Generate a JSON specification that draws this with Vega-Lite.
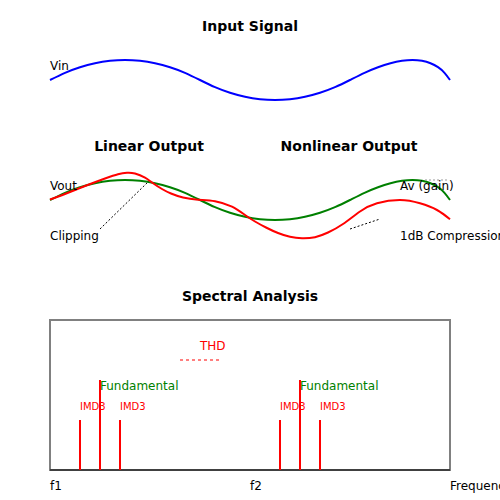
{
  "$schema": "https://vega.github.io/schema/vega-lite/v6.json",
  "width": 500,
  "height": 500,
  "padding": 0,
  "autosize": {"type": "none"},
  "background": "white",
  "config": {"view": {"stroke": null}, "font": "DejaVu Sans"},
  "datasets": {
    "curves": [
      {"s": "vin", "x": 50, "y": 80}, {"s": "vin", "x": 65, "y": 72.8}, {"s": "vin", "x": 80, "y": 67.2}, {"s": "vin", "x": 95, "y": 63.2}, {"s": "vin", "x": 110, "y": 60.8}, {"s": "vin", "x": 125, "y": 60}, {"s": "vin", "x": 140, "y": 60.8}, {"s": "vin", "x": 155, "y": 63.2}, {"s": "vin", "x": 170, "y": 67.2}, {"s": "vin", "x": 185, "y": 72.8}, {"s": "vin", "x": 200, "y": 80},
      {"s": "vin", "x": 215, "y": 87.2}, {"s": "vin", "x": 230, "y": 92.8}, {"s": "vin", "x": 245, "y": 96.8}, {"s": "vin", "x": 260, "y": 99.2}, {"s": "vin", "x": 275, "y": 100}, {"s": "vin", "x": 290, "y": 99.2}, {"s": "vin", "x": 305, "y": 96.8}, {"s": "vin", "x": 320, "y": 92.8}, {"s": "vin", "x": 335, "y": 87.2}, {"s": "vin", "x": 350, "y": 80},
      {"s": "vin", "x": 364.5, "y": 72.8}, {"s": "vin", "x": 378, "y": 67.2}, {"s": "vin", "x": 390.5, "y": 63.2}, {"s": "vin", "x": 402, "y": 60.8}, {"s": "vin", "x": 412.5, "y": 60}, {"s": "vin", "x": 422, "y": 60.8}, {"s": "vin", "x": 430.5, "y": 63.2}, {"s": "vin", "x": 438, "y": 67.2}, {"s": "vin", "x": 444.5, "y": 72.8}, {"s": "vin", "x": 450, "y": 80},
      {"s": "lin", "x": 50, "y": 200}, {"s": "lin", "x": 65, "y": 192.8}, {"s": "lin", "x": 80, "y": 187.2}, {"s": "lin", "x": 95, "y": 183.2}, {"s": "lin", "x": 110, "y": 180.8}, {"s": "lin", "x": 125, "y": 180}, {"s": "lin", "x": 140, "y": 180.8}, {"s": "lin", "x": 155, "y": 183.2}, {"s": "lin", "x": 170, "y": 187.2}, {"s": "lin", "x": 185, "y": 192.8}, {"s": "lin", "x": 200, "y": 200},
      {"s": "lin", "x": 215, "y": 207.2}, {"s": "lin", "x": 230, "y": 212.8}, {"s": "lin", "x": 245, "y": 216.8}, {"s": "lin", "x": 260, "y": 219.2}, {"s": "lin", "x": 275, "y": 220}, {"s": "lin", "x": 290, "y": 219.2}, {"s": "lin", "x": 305, "y": 216.8}, {"s": "lin", "x": 320, "y": 212.8}, {"s": "lin", "x": 335, "y": 207.2}, {"s": "lin", "x": 350, "y": 200},
      {"s": "lin", "x": 364.5, "y": 192.8}, {"s": "lin", "x": 378, "y": 187.2}, {"s": "lin", "x": 390.5, "y": 183.2}, {"s": "lin", "x": 402, "y": 180.8}, {"s": "lin", "x": 412.5, "y": 180}, {"s": "lin", "x": 422, "y": 180.8}, {"s": "lin", "x": 430.5, "y": 183.2}, {"s": "lin", "x": 438, "y": 187.2}, {"s": "lin", "x": 444.5, "y": 192.8}, {"s": "lin", "x": 450, "y": 200},
      {"s": "nl", "x": 50, "y": 199.5}, {"s": "nl", "x": 65, "y": 194}, {"s": "nl", "x": 85, "y": 186}, {"s": "nl", "x": 105, "y": 178.5}, {"s": "nl", "x": 118, "y": 174.2}, {"s": "nl", "x": 127, "y": 172.7}, {"s": "nl", "x": 135, "y": 173.5}, {"s": "nl", "x": 145, "y": 177.7}, {"s": "nl", "x": 152, "y": 182.5}, {"s": "nl", "x": 162, "y": 189}, {"s": "nl", "x": 171, "y": 193.5}, {"s": "nl", "x": 183, "y": 197.5}, {"s": "nl", "x": 198, "y": 199.7}, {"s": "nl", "x": 215, "y": 201.2}, {"s": "nl", "x": 232, "y": 206.7}, {"s": "nl", "x": 245, "y": 215}, {"s": "nl", "x": 255, "y": 221.5}, {"s": "nl", "x": 266, "y": 227.5}, {"s": "nl", "x": 278, "y": 233}, {"s": "nl", "x": 290, "y": 236.8}, {"s": "nl", "x": 302, "y": 238.3}, {"s": "nl", "x": 315, "y": 237.2}, {"s": "nl", "x": 328, "y": 232.5}, {"s": "nl", "x": 343, "y": 224}, {"s": "nl", "x": 360, "y": 211.5}, {"s": "nl", "x": 377, "y": 203.3}, {"s": "nl", "x": 400, "y": 200}, {"s": "nl", "x": 420, "y": 203.3}, {"s": "nl", "x": 437, "y": 210}, {"s": "nl", "x": 450, "y": 219.3}
    ],
    "guides": [
      {"g": "clip", "x": 100, "y": 229}, {"g": "clip", "x": 148, "y": 182},
      {"g": "comp", "x": 350, "y": 229}, {"g": "comp", "x": 380, "y": 219},
      {"g": "gain", "x": 425, "y": 180}, {"g": "gain", "x": 447, "y": 180}
    ],
    "thd": [{"x": 180, "y": 360}, {"x": 220, "y": 360}],
    "box": [{"x": 50, "y": 320, "x2": 450, "y2": 470}],
    "base": [{"x": 50, "y": 470}, {"x": 450, "y": 470}],
    "spikes": [
      {"x": 80, "top": 420, "bottom": 470}, {"x": 100, "top": 380, "bottom": 470}, {"x": 120, "top": 420, "bottom": 470},
      {"x": 280, "top": 420, "bottom": 470}, {"x": 300, "top": 380, "bottom": 470}, {"x": 320, "top": 420, "bottom": 470}
    ],
    "labels": [
      {"k": "title", "x": 250, "y": 31, "t": "Input Signal"},
      {"k": "title", "x": 149, "y": 151, "t": "Linear Output"},
      {"k": "title", "x": 349, "y": 151, "t": "Nonlinear Output"},
      {"k": "title", "x": 250, "y": 301, "t": "Spectral Analysis"},
      {"k": "plain", "x": 50, "y": 70, "t": "Vin"},
      {"k": "plain", "x": 50, "y": 190, "t": "Vout"},
      {"k": "plain", "x": 400, "y": 190, "t": "Av (gain)"},
      {"k": "plain", "x": 50, "y": 240, "t": "Clipping"},
      {"k": "plain", "x": 400, "y": 240, "t": "1dB Compression"},
      {"k": "plain", "x": 50, "y": 490, "t": "f1"},
      {"k": "plain", "x": 250, "y": 490, "t": "f2"},
      {"k": "plain", "x": 450, "y": 490, "t": "Frequency"},
      {"k": "thd", "x": 200, "y": 350, "t": "THD"},
      {"k": "fund", "x": 100, "y": 390, "t": "Fundamental"},
      {"k": "fund", "x": 300, "y": 390, "t": "Fundamental"},
      {"k": "imd", "x": 80, "y": 410, "t": "IMD3"},
      {"k": "imd", "x": 120, "y": 410, "t": "IMD3"},
      {"k": "imd", "x": 280, "y": 410, "t": "IMD3"},
      {"k": "imd", "x": 320, "y": 410, "t": "IMD3"}
    ]
  },
  "encoding": {
    "x": {"field": "x", "type": "quantitative", "scale": {"domain": [0, 500], "nice": false, "zero": false}, "axis": null},
    "y": {"field": "y", "type": "quantitative", "scale": {"domain": [500, 0], "nice": false, "zero": false}, "axis": null}
  },
  "layer": [
    {"data": {"name": "box"}, "mark": {"type": "rect", "fill": null, "stroke": "#808080", "strokeWidth": 2},
     "encoding": {"x2": {"field": "x2"}, "y2": {"field": "y2"}}},
    {"data": {"name": "base"}, "mark": {"type": "line", "color": "#404040", "strokeWidth": 2}, "encoding": {}},
    {"data": {"name": "spikes"}, "mark": {"type": "rule", "color": "#ff0000", "strokeWidth": 2},
     "encoding": {"y": {"field": "top"}, "y2": {"field": "bottom"}}},
    {"data": {"name": "thd"}, "mark": {"type": "line", "color": "#ff7f7f", "strokeWidth": 2, "strokeDash": [3, 3]}, "encoding": {}},
    {"data": {"name": "curves"}, "transform": [{"filter": "datum.s === 'vin'"}], "mark": {"type": "line", "color": "#0000ff", "strokeWidth": 2, "interpolate": "natural"}, "encoding": {}},
    {"data": {"name": "curves"}, "transform": [{"filter": "datum.s === 'lin'"}], "mark": {"type": "line", "color": "#008000", "strokeWidth": 2, "interpolate": "natural"}, "encoding": {}},
    {"data": {"name": "curves"}, "transform": [{"filter": "datum.s === 'nl'"}], "mark": {"type": "line", "color": "#ff0000", "strokeWidth": 2, "interpolate": "natural"}, "encoding": {}},
    {"data": {"name": "guides"}, "transform": [{"filter": "datum.g !== 'gain'"}], "mark": {"type": "line", "color": "#000000", "strokeWidth": 1, "strokeDash": [2, 2]}, "encoding": {"detail": {"field": "g"}}},
    {"data": {"name": "guides"}, "transform": [{"filter": "datum.g === 'gain'"}], "mark": {"type": "line", "color": "#999999", "strokeWidth": 1, "strokeDash": [2, 2]}, "encoding": {}},
    {"data": {"name": "labels"}, "transform": [{"filter": "datum.k === 'title'"}], "mark": {"type": "text", "fontSize": 14, "fontWeight": "bold", "align": "center", "baseline": "alphabetic", "color": "#000000"}, "encoding": {"text": {"field": "t"}}},
    {"data": {"name": "labels"}, "transform": [{"filter": "datum.k === 'plain'"}], "mark": {"type": "text", "fontSize": 12, "align": "left", "baseline": "alphabetic", "color": "#000000"}, "encoding": {"text": {"field": "t"}}},
    {"data": {"name": "labels"}, "transform": [{"filter": "datum.k === 'thd'"}], "mark": {"type": "text", "fontSize": 12, "align": "left", "baseline": "alphabetic", "color": "#ff0000"}, "encoding": {"text": {"field": "t"}}},
    {"data": {"name": "labels"}, "transform": [{"filter": "datum.k === 'fund'"}], "mark": {"type": "text", "fontSize": 12, "align": "left", "baseline": "alphabetic", "color": "#008000"}, "encoding": {"text": {"field": "t"}}},
    {"data": {"name": "labels"}, "transform": [{"filter": "datum.k === 'imd'"}], "mark": {"type": "text", "fontSize": 10, "align": "left", "baseline": "alphabetic", "color": "#ff0000"}, "encoding": {"text": {"field": "t"}}}
  ]
}
